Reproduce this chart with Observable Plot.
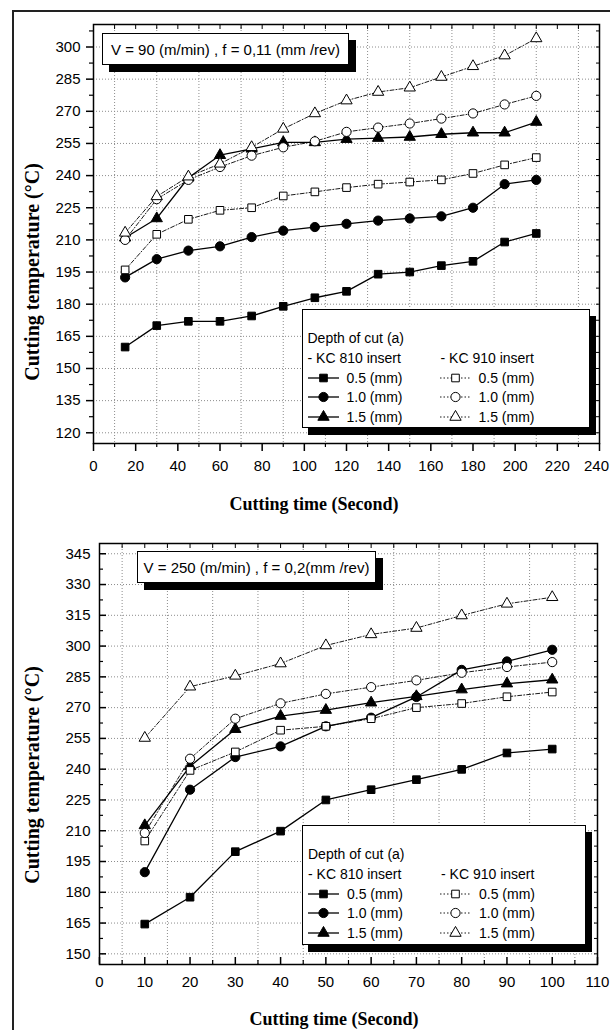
<!DOCTYPE html>
<html><head><meta charset="utf-8">
<script src="https://cdn.jsdelivr.net/npm/d3@7"></script>
<script src="https://cdn.jsdelivr.net/npm/@observablehq/plot@0.6"></script>
<style>
html,body{margin:0;padding:0;background:#fff;}
#root{position:relative;width:610px;height:1030px;overflow:hidden;font-family:"Liberation Sans",Arial,sans-serif;color:#000;}
.border{position:absolute;left:12px;top:10px;width:800px;height:1200px;border-left:2px solid #222;border-top:2px solid #222;}
.chart{position:absolute;left:0;}
.tbox{position:absolute;background:#fff;border:1px solid #000;box-shadow:7px 7px 0 #000;font-size:15px;display:flex;align-items:center;justify-content:center;white-space:nowrap;box-sizing:border-box;}
.lbox{position:absolute;background:#fff;border:1px solid #000;box-shadow:6px 7px 0 #000;box-sizing:border-box;}
.ltxt{position:absolute;font-size:14px;line-height:16px;white-space:nowrap;}
.title{position:absolute;font-family:"Liberation Serif","Times New Roman",serif;font-weight:bold;font-size:18px;white-space:nowrap;transform:translate(-50%,-50%);}
.ytitle{position:absolute;font-family:"Liberation Serif","Times New Roman",serif;font-weight:bold;font-size:20px;white-space:nowrap;transform:translate(-50%,-50%) rotate(-90deg);}
</style></head>
<body><div id="root"><div class="border"></div></div>
<script>
// ---------- Chart A: V = 90 m/min, f = 0.11 mm/rev ----------
const timesA = [15, 30, 45, 60, 75, 90, 105, 120, 135, 150, 165, 180, 195, 210];
const kc810_05A = [160, 170, 172, 172, 174.5, 179, 183, 186, 194, 195, 198, 200, 209, 213];
const kc810_10A = [192.5, 201, 205, 207, 211.3, 214.3, 216, 217.5, 219, 220, 221, 225, 236, 238];
const kc810_15A = [211, 220, 239, 249.5, 252.5, 255.5, 255.5, 257, 257.5, 258, 259.3, 260, 260, 265];
const kc910_05A = [196, 212.6, 219.6, 223.8, 225, 230.5, 232.4, 234.4, 236, 237, 238, 241, 245, 248.4];
const kc910_10A = [210, 229, 238, 244, 249.3, 253.2, 256, 260.4, 262.4, 264.3, 266.6, 269, 273.2, 277.2];
const kc910_15A = [213.3, 230.3, 239.5, 245.5, 253.2, 261.8, 269, 275, 279, 281, 286, 291, 296, 304];
const xTicksA = [0, 20, 40, 60, 80, 100, 120, 140, 160, 180, 200, 220, 240];
const xMinorA = [10, 30, 50, 70, 90, 110, 130, 150, 170, 190, 210, 230];
const yTicksA = [120, 135, 150, 165, 180, 195, 210, 225, 240, 255, 270, 285, 300];
const yMinorA = [127.5, 142.5, 157.5, 172.5, 187.5, 202.5, 217.5, 232.5, 247.5, 262.5, 277.5, 292.5, 307.5];
const titleA = "V = 90 (m/min) , f = 0,11 (mm /rev)";

// ---------- Chart B: V = 250 m/min, f = 0.2 mm/rev ----------
const timesB = [10, 20, 30, 40, 50, 60, 70, 80, 90, 100];
const kc810_05B = [164.5, 177.6, 199.8, 209.8, 225, 230, 234.9, 239.9, 247.9, 249.8];
const kc810_10B = [189.8, 230, 245.9, 251.1, 260.9, 265.1, 275.2, 288.4, 292.5, 298.2];
const kc810_15B = [212.6, 241.4, 259.5, 265.9, 268.8, 272.4, 275.5, 278.8, 281.7, 283.6];
const kc910_05B = [205, 239.4, 248.4, 259, 260.9, 264.6, 270, 272, 275.3, 277.6];
const kc910_10B = [208.9, 245.1, 264.6, 272.1, 276.7, 280, 283.3, 287, 289.8, 292.2];
const kc910_15B = [255.2, 280.2, 285.5, 291.5, 300.3, 305.7, 308.8, 314.9, 320.6, 323.8];
const xTicksB = [0, 10, 20, 30, 40, 50, 60, 70, 80, 90, 100, 110];
const xMinorB = [5, 15, 25, 35, 45, 55, 65, 75, 85, 95, 105];
const yTicksB = [150, 165, 180, 195, 210, 225, 240, 255, 270, 285, 300, 315, 330, 345];
const yMinorB = [157.5, 172.5, 187.5, 202.5, 217.5, 232.5, 247.5, 262.5, 277.5, 292.5, 307.5, 322.5, 337.5];
const titleB = "V = 250 (m/min) , f = 0,2(mm /rev)";

// ---------- Legend labels ----------
const legendHeader = "Depth of cut (a)";
const insertNames = ["- KC 810 insert", "- KC 910 insert"];
const depthLabels = ["0.5 (mm)", "1.0 (mm)", "1.5 (mm)"];
const xTitle = "Cutting time (Second)";
const yTitle = "Cutting temperature (°C)";

const symbols = ["square", "circle", "triangle"];
const symbolR = {square: 4.3, circle: 4.6, triangle: 4.2};
const d3Sym = {square: d3.symbolSquare, circle: d3.symbolCircle, triangle: d3.symbolTriangle};
const DASH = "4,2,1,2";

function buildChart(cfg) {
  const defs = [
    {vals: cfg.s810[0], sym: "square", open: false},
    {vals: cfg.s810[1], sym: "circle", open: false},
    {vals: cfg.s810[2], sym: "triangle", open: false},
    {vals: cfg.s910[0], sym: "square", open: true},
    {vals: cfg.s910[1], sym: "circle", open: true},
    {vals: cfg.s910[2], sym: "triangle", open: true}
  ];
  const series = defs.map(d => ({...d, rows: d.vals.map((v, i) => ({t: cfg.times[i], temp: v}))}));
  const grid = {stroke: "#8c8c8c", strokeOpacity: 1, strokeDasharray: "1,2", strokeWidth: 1};
  const marks = [
    Plot.gridX(cfg.xGrid, grid),
    Plot.gridY(cfg.yTicks, grid)
  ];
  for (const s of series) marks.push(Plot.line(s.rows, {x: "t", y: "temp", stroke: "black",
    strokeWidth: s.open ? 0.9 : 1.3, strokeDasharray: s.open ? DASH : null}));
  for (const s of series) marks.push(Plot.dot(s.rows, {x: "t", y: "temp", symbol: s.sym, r: symbolR[s.sym],
    fill: s.open ? "white" : "black", stroke: "black", strokeWidth: 1}));
  marks.push(Plot.frame({stroke: "black", strokeWidth: 1.5}));
  const blank = () => "";
  const inw = cfg.inward;
  const xLab = cfg.xTicks.slice(0, -1);
  const xLast = cfg.xTicks.slice(-1);
  marks.push(
    Plot.axisY(cfg.yTicks, {anchor: "left", tickSize: 0, tickPadding: inw ? 9 : 13, label: null}),
    Plot.axisY(cfg.yTicks, {anchor: "left", tickSize: inw ? -7 : 7, strokeWidth: 1.5, tickFormat: blank, label: null}),
    Plot.axisY(cfg.yMinor, {anchor: "left", tickSize: inw ? -4 : 4, strokeWidth: 1.2, tickFormat: blank, label: null}),
    Plot.axisX(xLab, {anchor: "bottom", tickSize: 0, tickPadding: inw ? 12 : 17, label: null}),
    Plot.axisX(xLast, {anchor: "bottom", tickSize: 0, tickPadding: inw ? 12 : 17, dx: cfg.lastDx, label: null}),
    Plot.axisX(cfg.xTicks, {anchor: "bottom", tickSize: inw ? -7 : 8, strokeWidth: 1.5, tickFormat: blank, label: null}),
    Plot.axisX(cfg.xGrid, {anchor: "bottom", tickSize: inw ? -4 : 4, strokeWidth: 1.2, tickFormat: blank, label: null}),
    Plot.axisX(cfg.xTicks.concat(cfg.xGrid), {anchor: "top", tickSize: -4, strokeWidth: 1, tickFormat: blank, label: null}),
    Plot.axisY(cfg.yTicks.concat(cfg.yMinor), {anchor: "right", tickSize: -4, strokeWidth: 1, tickFormat: blank, label: null})
  );
  return Plot.plot({
    width: 610, height: cfg.height,
    marginTop: cfg.m[0], marginRight: cfg.m[1], marginBottom: cfg.m[2], marginLeft: cfg.m[3],
    x: {domain: cfg.xDomain}, y: {domain: cfg.yDomain},
    style: {fontFamily: "'Liberation Sans', Arial, sans-serif", fontSize: "15px", color: "black", background: "transparent", overflow: "visible"},
    marks
  });
}

const root = document.getElementById("root");

function place(el, top) {
  const wrap = document.createElement("div");
  wrap.className = "chart";
  wrap.style.top = top + "px";
  wrap.appendChild(el);
  root.appendChild(wrap);
}

function addDiv(cls, text, styles) {
  const d = document.createElement("div");
  d.className = cls;
  d.textContent = text;
  Object.assign(d.style, styles);
  root.appendChild(d);
  return d;
}

function symbolSvg(sym, open, w) {
  const h = 14;
  const svg = d3.create("svg").attr("width", w).attr("height", h).style("position", "absolute").style("overflow", "visible");
  svg.append("line").attr("x1", 0).attr("x2", w).attr("y1", h / 2).attr("y2", h / 2)
    .attr("stroke", "black").attr("stroke-width", open ? 0.9 : 1.3).attr("stroke-dasharray", open ? "1.5,2" : null);
  const r = symbolR[sym];
  svg.append("path").attr("d", d3.symbol(d3Sym[sym], Math.PI * r * r)())
    .attr("transform", `translate(${w / 2},${h / 2})`)
    .attr("fill", open ? "white" : "black").attr("stroke", "black").attr("stroke-width", 1);
  return svg.node();
}

function legend(left, top, w, h) {
  const box = document.createElement("div");
  box.className = "lbox";
  Object.assign(box.style, {left: left + "px", top: top + "px", width: w + "px", height: h + "px"});
  root.appendChild(box);
  const txt = (s, x, cy) => {
    const d = document.createElement("div");
    d.className = "ltxt"; d.textContent = s;
    d.style.left = x + "px"; d.style.top = (cy - 8) + "px";
    box.appendChild(d);
  };
  txt(legendHeader, 5, 28);
  txt(insertNames[0], 5, 47.5);
  txt(insertNames[1], 138, 47.5);
  depthLabels.forEach((lab, i) => {
    const cy = 67.8 + i * 19.6;
    const s1 = symbolSvg(symbols[i], false, 31);
    s1.style.left = "5px"; s1.style.top = (cy - 7) + "px";
    box.appendChild(s1);
    txt(lab, 44, cy);
    const s2 = symbolSvg(symbols[i], true, 31);
    s2.style.left = "137px"; s2.style.top = (cy - 7) + "px";
    box.appendChild(s2);
    txt(lab, 176, cy);
  });
}

// Chart A
place(buildChart({
  times: timesA, s810: [kc810_05A, kc810_10A, kc810_15A], s910: [kc910_05A, kc910_10A, kc910_15A],
  xTicks: xTicksA, xGrid: xMinorA, yTicks: yTicksA, yMinor: yMinorA, lastDx: -3,
  xDomain: [0, 240], yDomain: [115, 310.5], height: 480, m: [24, 11, 37, 93], inward: false
}), 0);

// Chart B
place(buildChart({
  times: timesB, s810: [kc810_05B, kc810_10B, kc810_15B], s910: [kc910_05B, kc910_10B, kc910_15B],
  xTicks: xTicksB, xGrid: xMinorB, yTicks: yTicksB, yMinor: yMinorB, lastDx: 0,
  xDomain: [0, 110], yDomain: [144.8, 350], height: 490, m: [33, 13, 36, 99], inward: true
}), 510);

// Title boxes
addDiv("tbox", titleA, {left: "102px", top: "33px", width: "247px", height: "32px"});
addDiv("tbox", titleB, {left: "137px", top: "551px", width: "239px", height: "32px"});

// Legends
legend(301.5, 309, 288, 118.5);
legend(302, 825, 284, 120);

// Axis titles
addDiv("title", xTitle, {left: "314px", top: "504px"});
addDiv("title", xTitle, {left: "334px", top: "1019px"});
addDiv("ytitle", yTitle, {left: "32px", top: "272px"});
addDiv("ytitle", yTitle, {left: "32px", top: "775px"});
</script>
</body></html>
